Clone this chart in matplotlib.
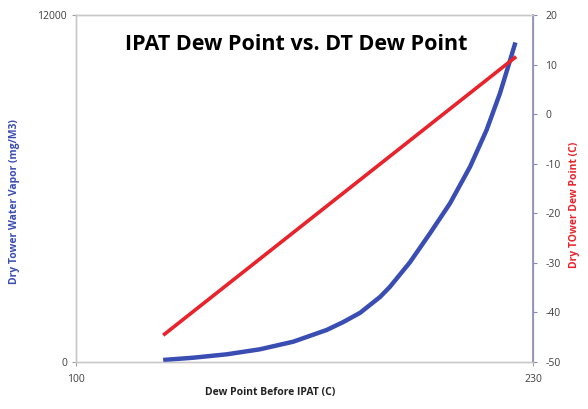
import matplotlib
matplotlib.use("Agg")
import matplotlib.pyplot as plt
from matplotlib.ticker import FixedLocator

# Data
vapor_x = [124.8, 133.4, 142.9, 152.3, 161.8, 171.3, 176.0, 180.8, 186.5, 189.3, 195.0,
           200.7, 206.4, 212.1, 216.8, 220.6, 223.5, 225.0]
vapor_y = [70, 149, 266, 439, 702, 1107, 1380, 1700, 2250, 2600, 3450,
           4450, 5488, 6753, 8023, 9292, 10443, 11050]
dew_x = [124.8, 225.2]
dew_y = [-44.6, 11.6]
x_ticks = [100, 230]
left_ticks = [0, 12000]
right_ticks = [-50, -40, -30, -20, -10, 0, 10, 20]

plt.rcParams['font.family'] = ['Open Sans', 'DejaVu Sans']
plt.rcParams['axes.unicode_minus'] = False

fig = plt.figure(figsize=(5.88, 4.09), dpi=100)
ax = fig.add_axes([76/588, 1-362/409, (533-76)/588, (362-15)/409])
ax2 = ax.twinx()

blue = '#3a4db3'
red = '#e8232b'
tick_col = '#404040'

ax.plot(vapor_x, vapor_y, color=blue, lw=3.2, solid_capstyle='butt',
        solid_joinstyle='round', zorder=3)
ax2.plot(dew_x, dew_y, color=red, lw=2.6, solid_capstyle='butt', zorder=3)

ax.set_xlim(100, 230)
ax.set_ylim(0, 12000)
ax2.set_ylim(-50, 20)
ax.xaxis.set_major_locator(FixedLocator(x_ticks))
ax.yaxis.set_major_locator(FixedLocator(left_ticks))
ax2.yaxis.set_major_locator(FixedLocator(right_ticks))

for a in (ax, ax2):
    for s in a.spines.values():
        s.set_color('#c8c8c8')
        s.set_linewidth(1.0)
ax2.spines['right'].set_color('#8a8ab8')
ax2.spines['right'].set_linewidth(1.2)

ax.tick_params(axis='both', labelsize=7.5, colors='#a0a0a0', labelcolor=tick_col, length=3, width=0.8, direction='out')
ax.tick_params(axis='x', pad=6)
ax2.tick_params(axis='y', labelsize=7.5, colors='#8a8ab8', labelcolor=tick_col, length=3, width=0.8, pad=6)

fig.text(296/588, 1-45/409, 'IPAT Dew Point vs. DT Dew Point',
         ha='center', va='center', fontsize=15.5, fontweight='bold', color='black')

fig.text(270/588, 1-393/409, 'Dew Point Before IPAT (C)', ha='center', va='center',
         fontsize=7.5, fontweight='bold', color='#222222')
fig.text(15/588, 1-202/409, 'Dry Tower Water Vapor (mg/M3)', ha='center', va='center',
         rotation=90, fontsize=7.5, fontweight='bold', color=blue)
fig.text(574/588, 1-205/409, 'Dry TOwer Dew Point (C)', ha='center', va='center',
         rotation=90, fontsize=7.5, fontweight='bold', color=red)

fig.savefig('out.png', dpi=100)
